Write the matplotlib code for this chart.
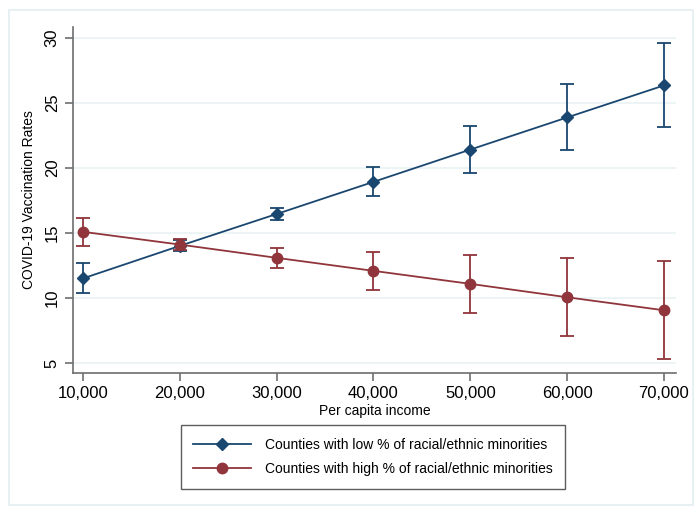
import numpy as np
import matplotlib
matplotlib.use("Agg")
import matplotlib.pyplot as plt
from matplotlib.patches import Rectangle
from matplotlib.lines import Line2D

plt.rcParams["font.family"] = ["Liberation Sans", "DejaVu Sans"]

# Per capita income levels (x axis)
income = [10000, 20000, 30000, 40000, 50000, 60000, 70000]

# Counties with low % of racial/ethnic minorities
low_rate = [11.5, 14.0, 16.45, 18.92, 21.4, 23.87, 26.33]
low_lo = [10.35, 13.6, 16.0, 17.85, 19.6, 21.36, 23.13]
low_hi = [12.65, 14.45, 16.9, 20.05, 23.2, 26.41, 29.6]

# Counties with high % of racial/ethnic minorities
high_rate = [15.08, 14.1, 13.08, 12.08, 11.08, 10.05, 9.05]
high_lo = [14.0, 13.7, 12.33, 10.64, 8.87, 7.1, 5.3]
high_hi = [16.15, 14.5, 13.8, 13.54, 13.31, 13.08, 12.85]

y_ticks = [5, 10, 15, 20, 25, 30]
x_labels = ["10,000", "20,000", "30,000", "40,000", "50,000", "60,000", "70,000"]
labels = ["Counties with low % of racial/ethnic minorities",
          "Counties with high % of racial/ethnic minorities"]

blue = "#1a476f"
red = "#90353b"

fig = plt.figure(figsize=(7.0, 5.16), dpi=100)
fig.patch.set_facecolor("white")
# light outer frame
fig.patches.append(Rectangle((9 / 700, 1 - 505 / 516), 684 / 700, 495 / 516,
                             transform=fig.transFigure, fill=False,
                             edgecolor="#e3eff1", linewidth=1.2))

ax = fig.add_axes([73 / 700, 1 - 373 / 516, 603 / 700, 346 / 516])

def draw(rate, lo, hi, color, marker, ms):
    rate = np.array(rate)
    yerr = [rate - np.array(lo), np.array(hi) - rate]
    ax.errorbar(income, rate, yerr=yerr, color=color, marker=marker,
                markersize=ms, linewidth=1.3, elinewidth=1.3, capsize=5,
                capthick=1.3, zorder=3)
    return Line2D([], [], color=color, marker=marker, markersize=ms, linewidth=1.3)

h1 = draw(low_rate, low_lo, low_hi, blue, "D", 6.5)
h2 = draw(high_rate, high_lo, high_hi, red, "o", 7.5)

ax.set_xlim(8967, 71240)
ax.set_ylim(4.23, 30.82)
ax.set_xticks(income)
ax.set_xticklabels(x_labels, fontsize=12)
ax.set_yticks(y_ticks)
ax.set_yticklabels([str(v) for v in y_ticks], fontsize=12, rotation=90, va="center")
ax.grid(axis="y", color="#eaf2f3", linewidth=1.2, zorder=0)
ax.set_axisbelow(True)
for side in ["top", "right"]:
    ax.spines[side].set_visible(False)
for side in ["left", "bottom"]:
    ax.spines[side].set_color("#6e6e6e")
    ax.spines[side].set_linewidth(1.2)
ax.tick_params(axis="both", color="#6e6e6e", length=6, width=1.2)

ax.set_xlabel("Per capita income", fontsize=10, labelpad=2)
ax.set_ylabel("COVID-19 Vaccination Rates", fontsize=10, labelpad=6)

leg = fig.legend([h1, h2], labels, loc="center",
                 bbox_to_anchor=(373 / 700, 1 - 457 / 516),
                 fontsize=10, frameon=True, fancybox=False, handlelength=4.2,
                 handletextpad=1.0, borderpad=0.9, labelspacing=0.75)
leg.get_frame().set_edgecolor("#333333")
leg.get_frame().set_linewidth(1.0)

fig.savefig("out.png", dpi=100, facecolor="white")
